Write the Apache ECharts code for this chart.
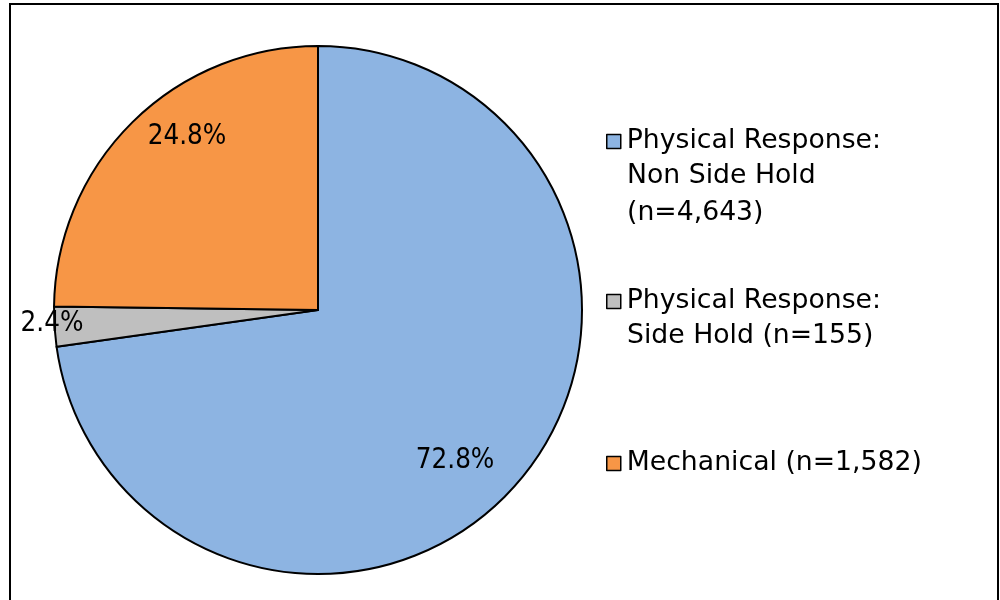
<!DOCTYPE html>
<html>
<head>
<meta charset="utf-8">
<script src="https://cdn.jsdelivr.net/npm/echarts@6/dist/echarts.min.js"></script>
<style>
  html, body { margin: 0; padding: 0; background: #fff; }
  #chart { width: 1000px; height: 600px; }
</style>
</head>
<body>
<div id="chart"></div>
<script>
// ---- data ----
const categories = [
  'Physical Response: Non Side Hold (n=4,643)',
  'Physical Response: Side Hold (n=155)',
  'Mechanical (n=1,582)'
];
const values = [4643, 155, 1582];
const percentLabels = ['72.8%', '2.4%', '24.8%'];
const legendLines = [
  ['Physical Response:', 'Non Side Hold', '(n=4,643)'],
  ['Physical Response:', 'Side Hold (n=155)'],
  ['Mechanical (n=1,582)']
];

// ---- style / layout ----
const colors = ['#8DB4E2', '#BFBFBF', '#F79646'];
const CX = 318, CY = 310, R = 264;
const labelRadiusFactor = [0.773, 1.009, 0.822];
const labelAngleShift = [-6.8, -0.6, -7.5];
const legendTops = [118, 278, 440];
const LINE_H = 37;
const LEGEND_FS = 26.7;
const legendFont = '"DejaVu Sans", Verdana, sans-serif';
const labelFont = '"DejaVu Sans Condensed", "DejaVu Sans", sans-serif';

const total = values.reduce((a, b) => a + b, 0);
function midAngle(i) {
  let before = 0;
  for (let k = 0; k < i; k++) before += values[k];
  const start = 90 - 360 * before / total;
  return start - 180 * values[i] / total;
}

const chart = echarts.init(document.getElementById('chart'), null, { renderer: 'canvas' });

const legends = categories.map((name, i) => ({
  data: [name],
  orient: 'vertical',
  icon: 'rect',
  left: 601,
  top: legendTops[i],
  itemWidth: 14,
  itemHeight: 14,
  selectedMode: false,
  itemStyle: { borderColor: '#000', borderWidth: 1.5 },
  formatter: () => legendLines[i][0],
  textStyle: {
    fontFamily: legendFont,
    fontSize: LEGEND_FS,
    color: '#000',
    lineHeight: LINE_H,
    padding: [0, 0, 0, 1]
  }
}));

const graphics = [{
  type: 'rect',
  shape: { x: 10, y: 4, width: 988, height: 620 },
  style: { fill: 'none', stroke: '#000', lineWidth: 2 },
  silent: true
}];
legendLines.forEach((lines, i) => {
  lines.slice(1).forEach((txt, j) => {
    graphics.push({
      type: 'text',
      left: 627,
      top: legendTops[i] + (j + 1) * LINE_H + 3,
      style: {
        text: txt,
        fontFamily: legendFont,
        fontSize: LEGEND_FS,
        fill: '#000',
        lineHeight: LINE_H
      },
      silent: true
    });
  });
});

chart.setOption({
  animation: false,
  backgroundColor: '#fff',
  legend: legends,
  graphic: graphics,
  series: [{
    type: 'pie',
    center: [CX, CY],
    radius: R,
    startAngle: 90,
    clockwise: true,
    avoidLabelOverlap: false,
    data: categories.map((name, i) => ({
      name: name,
      value: values[i],
      itemStyle: { color: colors[i] }
    })),
    itemStyle: { borderColor: '#000', borderWidth: 2 },
    label: {
      show: true,
      position: 'inside',
      formatter: (p) => percentLabels[p.dataIndex],
      fontFamily: labelFont,
      fontSize: 27.5,
      color: '#000'
    },
    labelLine: { show: false },
    emphasis: { disabled: true },
    labelLayout: function (params) {
      const i = params.dataIndex;
      const a = (midAngle(i) + labelAngleShift[i]) * Math.PI / 180;
      const d = R * labelRadiusFactor[i];
      return {
        x: CX + d * Math.cos(a),
        y: CY - d * Math.sin(a),
        align: 'center',
        verticalAlign: 'middle'
      };
    }
  }]
});
</script>
</body>
</html>
